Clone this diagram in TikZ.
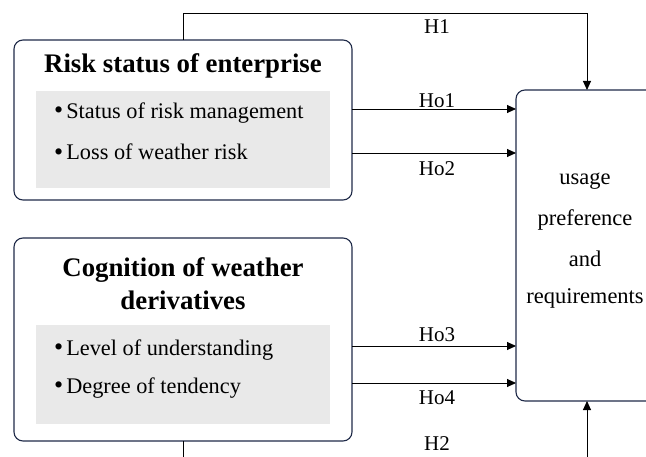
\documentclass[tikz,border=0pt]{standalone}
\usepackage{fontspec}
\setmainfont{Liberation Serif}
\usetikzlibrary{arrows.meta}
\definecolor{navy}{HTML}{1F2A48}
\definecolor{panel}{HTML}{E9E9E9}
\newcommand{\bul}{{\fontsize{26}{26}\selectfont\raisebox{-0.5pt}{\textbullet}}\hspace{3pt}}
\tikzset{
  x=1pt,y=-1pt,
  outer/.style={draw=navy,line width=1.1pt,rounded corners=9pt},
  inner/.style={fill=panel},
  conn/.style={line width=0.9pt,-{Triangle[length=9pt,width=8pt]}},
  lbl/.style={font=\fontsize{21}{21}\selectfont,inner sep=0pt},
  ttl/.style={font=\fontsize{26.8}{33}\selectfont\bfseries,align=center,inner sep=0pt},
  item/.style={font=\fontsize{22.3}{22.3}\selectfont,anchor=west,inner sep=0pt},
  rtxt/.style={font=\fontsize{22.5}{22.5}\selectfont,inner sep=0pt}
}
\begin{document}
\begin{tikzpicture}
\useasboundingbox (0,0) rectangle (646,457);
\begin{scope}
\clip (0,0) rectangle (646,457);
% boxes
\draw[outer] (14,40) rectangle (352,200);
\fill[inner] (36,91) rectangle (330,188);
\node[ttl] (t1) at (183,66) {Risk status of enterprise};
\node[item] (i1) at (54,113) {\bul Status of risk management};
\node[item] (i2) at (54,152) {\bul Loss of weather risk};
\coordinate (b1top) at (183,40);
\coordinate (b1r1) at (352,109);
\coordinate (b1r2) at (352,153);

\draw[outer] (14,238) rectangle (352,441);
\fill[inner] (36,325) rectangle (330,424);
\node[ttl] (t2) at (183,284) {Cognition of weather\\derivatives};
\node[item] (i3) at (54,350) {\bul Level of understanding};
\node[item] (i4) at (54,388) {\bul Degree of tendency};
\coordinate (b2bot) at (183,441);
\coordinate (b2r1) at (352,346);
\coordinate (b2r2) at (352,383);

\draw[outer] (516,90) rectangle (662,401);
\node[rtxt] (r1) at (585,181) {usage};
\node[rtxt] (r2) at (585,220) {preference};
\node[rtxt] (r3) at (585,259) {and};
\node[rtxt] (r4) at (585,298) {requirements};
\coordinate (rtop) at (587,90);
\coordinate (rbot) at (587,401);
\coordinate (rl1) at (516,109);
\coordinate (rl2) at (516,153);
\coordinate (rl3) at (516,346);
\coordinate (rl4) at (516,383);

% connectors
\draw[conn] (b1top) -- (183,13) -- (587,13) -- (rtop);
\draw[conn] (b1r1) -- (rl1);
\draw[conn] (b1r2) -- (rl2);
\draw[conn] (b2r1) -- (rl3);
\draw[conn] (b2r2) -- (rl4);
\draw[conn] (b2bot) -- (183,470) -- (587,470) -- (rbot);

\node[lbl] (h1) at (437,27) {H1};
\node[lbl] (ho1) at (437,101) {Ho1};
\node[lbl] (ho2) at (437,169) {Ho2};
\node[lbl] (ho3) at (437,335) {Ho3};
\node[lbl] (ho4) at (437,398) {Ho4};
\node[lbl] (h2) at (437,444) {H2};
\end{scope}
\end{tikzpicture}
\end{document}
